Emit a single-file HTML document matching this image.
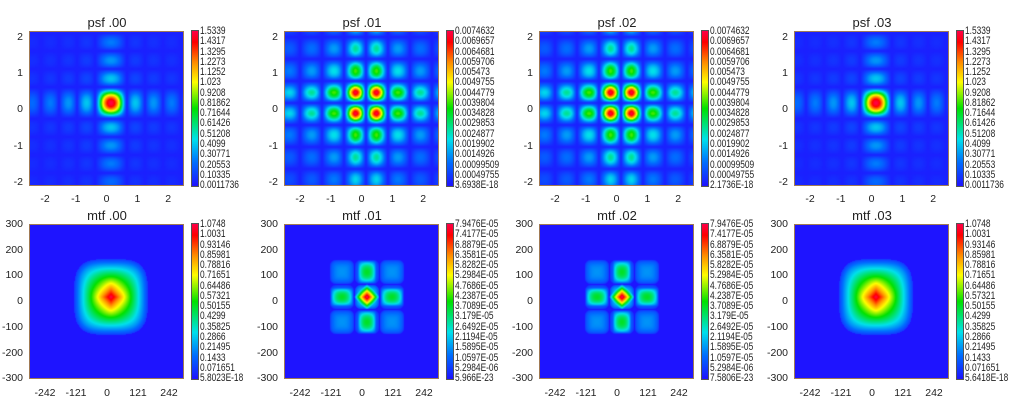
<!DOCTYPE html>
<html><head><meta charset="utf-8">
<style>
body{margin:0;background:#fff;width:1012px;height:404px;overflow:hidden;position:relative;font-family:"Liberation Sans",Arial,sans-serif;color:#222}
canvas{position:absolute}
.t{position:absolute;font-size:13px;white-space:nowrap;transform:translateX(-50%)}
.l{position:absolute;font-size:10.5px;white-space:nowrap;line-height:11px}
.c{position:absolute;font-size:11px;white-space:nowrap;line-height:11px;transform:scaleX(0.76);transform-origin:0 0}
.b{position:absolute;border:1px solid #a07a55;box-sizing:border-box}
</style></head><body>
<script>
const cols=[29,284,539,794];
const stops=[[0,30,20,255],[0.15,0,110,255],[0.3,0,225,235],[0.5,0,225,0],[0.67,255,255,0],[0.8,255,140,0],[0.93,255,0,0],[1,255,0,70]];
function cmap(t){t=Math.max(0,Math.min(1,t));for(let i=1;i<stops.length;i++){if(t<=stops[i][0]){const a=stops[i-1],b=stops[i],f=(t-a[0])/(b[0]-a[0]);return[a[1]+f*(b[1]-a[1]),a[2]+f*(b[2]-a[2]),a[3]+f*(b[3]-a[3])];}}return stops[stops.length-1].slice(1);}
function s0(u){u=Math.abs(u);if(u<16)return Math.pow(Math.cos(Math.PI*u/32),1.2);return 0.3*Math.abs(Math.sin(Math.PI*(u-16)/18))/(1+(u-16)/45);}
function s1(u){u=Math.abs(u);return Math.abs(Math.sin(Math.PI*u/22))/(1+Math.max(0,u-11)/25);}
function psf0(x,y){const u=x-82,v=y-72;return 0.02+0.98*s0(u)*s0(v);}
function psf1(x,y){const u=x-82,v=y-72;return 0.02+0.98*s1(u)*s1(v);}
function mtf0(x,y){const u=(x-82)/37,v=(y-73)/38;const r=Math.hypot(u,v);const p=1+2.5*Math.pow(Math.min(1,r),1.5);const q=Math.pow(Math.pow(Math.abs(u),p)+Math.pow(Math.abs(v),p),1/p);if(q>=1)return 0;return Math.max(0,1-q)*0.95+0.06;}
function bump(s){s=Math.min(1,Math.abs(s));return Math.pow(Math.max(0,1-s*s),0.7);}
function sq(su,sv){const a=Math.min(1,Math.pow(Math.pow(Math.abs(su),4)+Math.pow(Math.abs(sv),4),0.25));return Math.pow(1-a*a,0.5);}
function mtf1(x,y){const u=x-83,v=y-73;const i=Math.round(u/25),j=Math.round(v/25);if(Math.abs(i)>1||Math.abs(j)>1)return 0;const su=(u-i*25)/12.5,sv=(v-j*25)/12.5;let f;const base=sq(su,sv);
 if(i==0&&j==0){const d=Math.abs(su)+Math.abs(sv);f=0.75*Math.max(0,1-d*0.9)+0.3*base;}
 else if(i==0||j==0){const along=(i!=0)?su:sv,across=(i!=0)?sv:su;f=0.3*bump(along*1.1)*bump(across*1.4)+0.17*base;}
 else{f=0.2*base;}
 return f;}
function panel(x0,y0,fn){const c=document.createElement('canvas');c.width=155;c.height=155;c.style.left=x0+'px';c.style.top=y0+'px';const g=c.getContext('2d');const im=g.createImageData(155,155);for(let y=0;y<155;y++)for(let x=0;x<155;x++){const col=cmap(fn(x+0.5,y+0.5));const i=(y*155+x)*4;im.data[i]=col[0];im.data[i+1]=col[1];im.data[i+2]=col[2];im.data[i+3]=255;}g.putImageData(im,0,0);document.body.appendChild(c);const b=document.createElement('div');b.className='b';b.style.cssText+=`left:${x0}px;top:${y0}px;width:155px;height:155px`;document.body.appendChild(b);}
function cbar(x,y,h){const c=document.createElement('canvas');c.width=6;c.height=h;c.style.left=x+'px';c.style.top=y+'px';const g=c.getContext('2d');for(let i=0;i<h;i++){const col=cmap(1-i/(h-1));g.fillStyle=`rgb(${col[0]|0},${col[1]|0},${col[2]|0})`;g.fillRect(0,i,6,1);}document.body.appendChild(c);const b=document.createElement('div');b.className='b';b.style.cssText+=`left:${x-1}px;top:${y-1}px;width:8px;height:${h+2}px;border-color:#555`;document.body.appendChild(b);}
function txt(cls,x,y,s,right){const d=document.createElement('div');d.className=cls;d.textContent=s;d.style.left=x+'px';d.style.top=y+'px';if(right){d.style.transform='translateX(-100%)';}document.body.appendChild(d);}
const labs={
p0:["1.5339","1.4317","1.3295","1.2273","1.1252","1.023","0.9208","0.81862","0.71644","0.61426","0.51208","0.4099","0.30771","0.20553","0.10335","0.0011736"],
p1:["0.0074632","0.0069657","0.0064681","0.0059706","0.005473","0.0049755","0.0044779","0.0039804","0.0034828","0.0029853","0.0024877","0.0019902","0.0014926","0.00099509","0.00049755","3.6938E-18"],
p2:["0.0074632","0.0069657","0.0064681","0.0059706","0.005473","0.0049755","0.0044779","0.0039804","0.0034828","0.0029853","0.0024877","0.0019902","0.0014926","0.00099509","0.00049755","2.1736E-18"],
p3:["1.5339","1.4317","1.3295","1.2273","1.1252","1.023","0.9208","0.81862","0.71644","0.61426","0.51208","0.4099","0.30771","0.20553","0.10335","0.0011736"],
m0:["1.0748","1.0031","0.93146","0.85981","0.78816","0.71651","0.64486","0.57321","0.50155","0.4299","0.35825","0.2866","0.21495","0.1433","0.071651","5.8023E-18"],
m1:["7.9476E-05","7.4177E-05","6.8879E-05","6.3581E-05","5.8282E-05","5.2984E-05","4.7686E-05","4.2387E-05","3.7089E-05","3.179E-05","2.6492E-05","2.1194E-05","1.5895E-05","1.0597E-05","5.2984E-06","5.966E-23"],
m2:["7.9476E-05","7.4177E-05","6.8879E-05","6.3581E-05","5.8282E-05","5.2984E-05","4.7686E-05","4.2387E-05","3.7089E-05","3.179E-05","2.6492E-05","2.1194E-05","1.5895E-05","1.0597E-05","5.2984E-06","7.5806E-23"],
m3:["1.0748","1.0031","0.93146","0.85981","0.78816","0.71651","0.64486","0.57321","0.50155","0.4299","0.35825","0.2866","0.21495","0.1433","0.071651","5.6418E-18"]};
for(let k=0;k<4;k++){
 const x0=cols[k];
 panel(x0,31,(k==0||k==3)?psf0:psf1);
 cbar(x0+163,31,155);
 txt('t',x0+78,15,'psf .0'+k);
 labs['p'+k].forEach((s,i)=>txt('c',x0+171,26+i*10.27,s));
 ['2','1','0','-1','-2'].forEach((s,i)=>txt('l',x0-6,32+i*36.2,s,true));
 ['-2','-1','0','1','2'].forEach((s,i)=>{txt('t',x0+16+i*30.8,193,s);});
 panel(x0,224,(k==0||k==3)?mtf0:mtf1);
 cbar(x0+163,224,155);
 txt('t',x0+78,208,'mtf .0'+k);
 labs['m'+k].forEach((s,i)=>txt('c',x0+171,219+i*10.27,s));
 ['300','200','100','0','-100','-200','-300'].forEach((s,i)=>txt('l',x0-6,219+i*25.7,s,true));
 ['-242','-121','0','121','242'].forEach((s,i)=>{txt('t',x0+16+i*31,387,s);});
}
document.querySelectorAll('.t').forEach(e=>{if(/^(psf|mtf)/.test(e.textContent))e.style.fontSize='13px';else e.style.fontSize='10.5px';});
</script>
</body></html>
